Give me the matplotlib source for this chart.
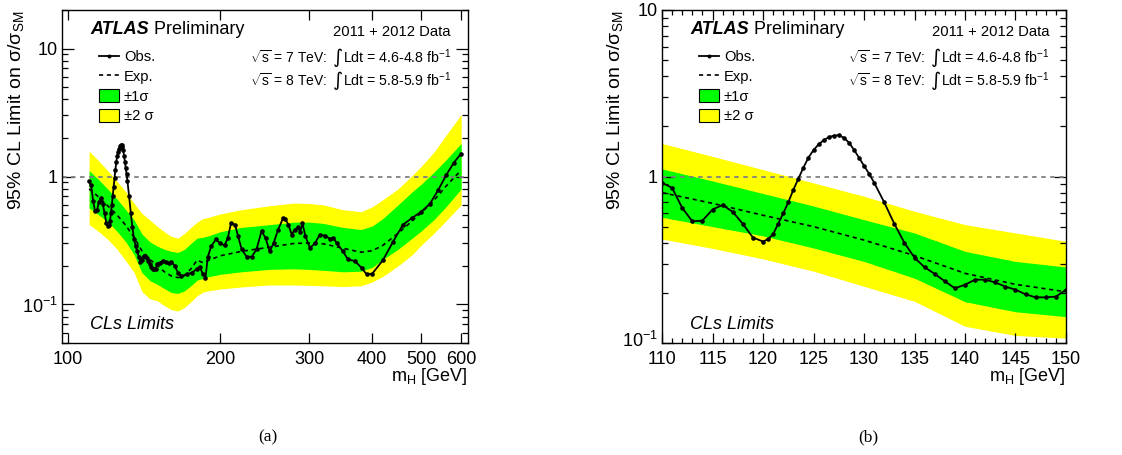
import numpy as np
import matplotlib.pyplot as plt
from matplotlib.lines import Line2D
from matplotlib.patches import Patch
from matplotlib.ticker import FixedLocator, NullFormatter, FuncFormatter
from matplotlib.transforms import ScaledTranslation

plt.rcParams['font.family'] = ['Liberation Sans', 'DejaVu Sans']
plt.rcParams['mathtext.fontset'] = 'custom'
plt.rcParams['mathtext.rm'] = 'Liberation Sans'
plt.rcParams['mathtext.it'] = 'Liberation Sans:italic'
plt.rcParams['mathtext.bf'] = 'Liberation Sans:bold'

# observed limit, low mass region (shared by both panels)
obs_m_lo = [110, 111, 112, 113, 114, 115, 116, 117, 118, 119, 120, 120.5, 121, 121.5, 122, 122.5,
            123, 123.5, 124, 124.5, 125, 125.5, 126, 126.5, 127, 127.5, 128, 128.5, 129, 129.5,
            130, 130.5, 131, 132, 133, 134, 135, 136, 137, 138, 139, 140, 141, 142, 143, 144,
            145, 146, 147, 148, 149, 150]
obs_lo = [0.916, 0.855, 0.648, 0.538, 0.543, 0.633, 0.675, 0.613, 0.52, 0.43, 0.407, 0.42,
          0.45, 0.52, 0.60, 0.70, 0.83, 0.97, 1.13, 1.30, 1.44, 1.56, 1.65, 1.72, 1.76, 1.77,
          1.71, 1.60, 1.45, 1.30, 1.16, 1.04, 0.92, 0.70, 0.52, 0.40, 0.325, 0.285, 0.26,
          0.235, 0.213, 0.224, 0.24, 0.24, 0.231, 0.218, 0.209, 0.196, 0.188, 0.188, 0.19,
          0.209]

# observed limit, high mass region (left panel only)
obs_m_hi = [152, 154, 156.5, 158, 160, 162.5, 165, 167.5, 171.5, 175.5, 179.5, 182, 185, 187,
            189, 192, 196, 200, 204, 207, 210, 214, 217, 220.5, 225.5, 231, 236, 241.5, 246,
            250.5, 255, 260.5, 266.5, 269, 273, 277, 281, 285, 288, 291, 295, 301, 308, 315,
            322, 330, 335, 340, 350, 358, 370, 381, 390, 400, 420, 440, 460, 480, 500, 520,
            540, 560, 580, 600]
obs_hi = [0.212, 0.22, 0.215, 0.21, 0.216, 0.20, 0.177, 0.167, 0.172, 0.177, 0.188, 0.197,
          0.172, 0.162, 0.236, 0.286, 0.322, 0.30, 0.29, 0.33, 0.43, 0.42, 0.34, 0.27, 0.236,
          0.236, 0.27, 0.375, 0.33, 0.26, 0.30, 0.385, 0.475, 0.465, 0.42, 0.352, 0.385, 0.40,
          0.37, 0.43, 0.34, 0.277, 0.30, 0.352, 0.345, 0.326, 0.332, 0.303, 0.26, 0.225, 0.218,
          0.193, 0.172, 0.174, 0.222, 0.31, 0.42, 0.475, 0.53, 0.61, 0.78, 1.02, 1.28, 1.51]

# expected limit and bands, low mass
band_m_lo = [110, 115, 120, 125, 130, 135, 140, 145, 150]
exp_lo = [0.80, 0.69, 0.585, 0.50, 0.415, 0.335, 0.262, 0.225, 0.203]
g_up_lo = [1.11, 0.94, 0.79, 0.665, 0.55, 0.458, 0.355, 0.309, 0.286]
g_dn_lo = [0.569, 0.50, 0.44, 0.372, 0.309, 0.245, 0.177, 0.154, 0.144]
y_up_lo = [1.58, 1.32, 1.10, 0.915, 0.761, 0.618, 0.514, 0.458, 0.408]
y_dn_lo = [0.421, 0.37, 0.32, 0.27, 0.219, 0.178, 0.126, 0.111, 0.107]

# expected limit and bands, high mass
band_m_hi = [155, 160, 165, 170, 175, 180, 185, 190, 200, 220, 250, 280, 300, 320, 350, 380,
             400, 420, 450, 480, 500, 530, 560, 600]
exp_hi = [0.18, 0.167, 0.162, 0.168, 0.19, 0.222, 0.212, 0.222, 0.24, 0.26, 0.28, 0.30, 0.302,
          0.298, 0.275, 0.256, 0.263, 0.29, 0.36, 0.45, 0.52, 0.65, 0.84, 1.12]
g_up_hi = [0.27, 0.26, 0.255, 0.27, 0.30, 0.33, 0.335, 0.345, 0.37, 0.40, 0.42, 0.44, 0.44,
           0.43, 0.40, 0.385, 0.41, 0.47, 0.60, 0.76, 0.87, 1.08, 1.35, 1.81]
g_dn_hi = [0.133, 0.124, 0.122, 0.128, 0.14, 0.155, 0.16, 0.165, 0.172, 0.18, 0.188, 0.19,
           0.188, 0.185, 0.18, 0.182, 0.195, 0.225, 0.27, 0.33, 0.375, 0.46, 0.58, 0.80]
y_up_hi = [0.37, 0.34, 0.33, 0.36, 0.40, 0.44, 0.47, 0.48, 0.51, 0.55, 0.59, 0.62, 0.615, 0.60,
           0.55, 0.53, 0.58, 0.66, 0.80, 1.02, 1.2, 1.55, 2.1, 3.05]
y_dn_hi = [0.098, 0.091, 0.089, 0.095, 0.105, 0.117, 0.125, 0.128, 0.132, 0.137, 0.142, 0.142,
           0.141, 0.14, 0.138, 0.14, 0.15, 0.166, 0.20, 0.245, 0.29, 0.36, 0.45, 0.60]

lumi_lines = [('7', '4.6-4.8'), ('8', '5.8-5.9')]

GREEN = '#00ff00'
YELLOW = '#ffff00'


def yfmt(v, pos):
    labels = {0.1: r'$10^{-1}$', 1.0: '1', 10.0: '10'}
    for k, s in labels.items():
        if abs(v - k) < 1e-9:
            return s
    return ''


def draw_panel(ax, m_obs, obs, m_band, exp, g_up, g_dn, y_up, y_dn):
    ax.fill_between(m_band, y_dn, y_up, color=YELLOW, lw=0)
    ax.fill_between(m_band, g_dn, g_up, color=GREEN, lw=0)
    ax.axhline(1, color='#808080', lw=1.3, dashes=(2.5, 2.5))
    ax.plot(m_band, exp, color='black', lw=1.2, dashes=(2.5, 2.2))
    ax.plot(m_obs, obs, color='black', lw=1.3, marker='o', ms=2.3)

    ax.set_yscale('log')
    ax.yaxis.set_major_formatter(FuncFormatter(yfmt))
    ax.yaxis.set_minor_formatter(NullFormatter())
    ax.tick_params(axis='both', which='both', direction='in', top=True, right=True,
                   labelsize=13, width=0.9)
    ax.tick_params(axis='y', which='major', length=8.6, pad=3)
    ax.tick_params(axis='y', which='minor', length=4.3)
    ax.tick_params(axis='x', which='major', length=7.2, pad=6)
    ax.tick_params(axis='x', which='minor', length=3.6)
    for s in ax.spines.values():
        s.set_linewidth(1.0)

    ax.set_ylabel('95% CL Limit on σ/σ$_{\\mathrm{SM}}$', fontsize=14, loc='top')
    ax.yaxis.set_label_coords(-0.089, 1.0)
    ax.set_xlabel(r'm$_{\mathrm{H}}$ [GeV]', fontsize=13, loc='right')
    ax.xaxis.set_label_coords(1.0, -0.07)

    # ATLAS label
    t = ax.text(0.069, 0.94, 'ATLAS', transform=ax.transAxes, fontsize=13,
                fontweight='bold', fontstyle='italic', va='center')
    ax.annotate(' Preliminary', xy=(1, 0), xycoords=t, fontsize=13, va='bottom')
    ax.text(0.958, 0.935, '2011 + 2012 Data', transform=ax.transAxes, fontsize=10.6,
            ha='right', va='center')
    for (e, lumi), yy in zip(lumi_lines, [0.86, 0.79]):
        t1 = ax.text(0.958, yy, 'Ldt = %s fb$^{-1}$' % lumi, transform=ax.transAxes,
                     fontsize=10.2, ha='right', va='center')
        t2 = ax.annotate('∫', xy=(0, 0.45), xycoords=t1, fontsize=14, ha='right',
                         va='center', family=['DejaVu Sans'])
        ax.annotate(r'$\sqrt{\mathrm{s}}$ = %s TeV:  ' % e, xy=(0, 0.5), xycoords=t2,
                    fontsize=10.0, ha='right', va='center')
    ax.text(0.069, 0.055, 'CLs Limits', transform=ax.transAxes, fontsize=13,
            fontstyle='italic', va='center')

    handles = [Line2D([], [], color='black', lw=1.3, marker='o', ms=2.3),
               Line2D([], [], color='black', lw=1.2, dashes=(2.5, 2.2)),
               Patch(facecolor=GREEN, edgecolor='black', lw=0.8),
               Patch(facecolor=YELLOW, edgecolor='black', lw=0.8)]
    ax.legend(handles, ['Obs.', 'Exp.', '±1σ', '±2 σ'],
              loc='upper left', bbox_to_anchor=(0.091, 0.88), frameon=False,
              fontsize=10.6, handlelength=1.35, handleheight=0.95, handletextpad=0.35,
              labelspacing=0.36, borderpad=0, borderaxespad=0, markerscale=0.8)


fig = plt.figure(figsize=(11.22, 4.55), dpi=100)
ax1 = fig.add_axes([62 / 1122, 1 - 343 / 455, 406 / 1122, 333 / 455])
ax2 = fig.add_axes([662 / 1122, 1 - 343 / 455, 404 / 1122, 333 / 455])

# left panel: full mass range
draw_panel(ax1, obs_m_lo + obs_m_hi, obs_lo + obs_hi,
           band_m_lo + band_m_hi, exp_lo + exp_hi,
           g_up_lo + g_up_hi, g_dn_lo + g_dn_hi,
           y_up_lo + y_up_hi, y_dn_lo + y_dn_hi)
ax1.set_xscale('log')
ax1.set_xlim(97.2, 619)
ax1.set_ylim(0.05, 20)
ax1.xaxis.set_major_locator(FixedLocator([100, 200, 300, 400, 500, 600]))
ax1.xaxis.set_major_formatter(FuncFormatter(lambda v, p: '%d' % v))
ax1.xaxis.set_minor_locator(FixedLocator([]))
ax1.yaxis.set_major_locator(FixedLocator([0.1, 1, 10]))
ax1.yaxis.set_minor_locator(FixedLocator([0.05, 0.06, 0.07, 0.08, 0.09] +
                                         [0.2, 0.3, 0.4, 0.5, 0.6, 0.7, 0.8, 0.9] +
                                         [2, 3, 4, 5, 6, 7, 8, 9, 20]))

# right panel: low mass zoom
draw_panel(ax2, obs_m_lo, obs_lo, band_m_lo, exp_lo, g_up_lo, g_dn_lo, y_up_lo, y_dn_lo)
ax2.set_xlim(110, 150)
ax2.set_ylim(0.1, 10)
ax2.xaxis.set_major_locator(FixedLocator(list(range(110, 151, 5))))
ax2.xaxis.set_minor_locator(FixedLocator(list(range(110, 151, 1))))
ax2.yaxis.set_major_locator(FixedLocator([0.1, 1, 10]))
ax2.yaxis.set_minor_locator(FixedLocator([0.2, 0.3, 0.4, 0.5, 0.6, 0.7, 0.8, 0.9] +
                                         [2, 3, 4, 5, 6, 7, 8, 9]))
ax2.yaxis.set_label_coords(-0.092, 1.0)

# the bottom y label of the right panel sits a little higher, next to "110"
lab = ax2.yaxis.get_major_ticks()[0].label1
lab.set_transform(lab.get_transform() + ScaledTranslation(0, 3 / 72, fig.dpi_scale_trans))

fig.text(268 / 1122, 1 - 437 / 455, '(a)', family='Liberation Serif', fontsize=12.5,
         ha='center', va='center')
fig.text(868 / 1122, 1 - 437 / 455, '(b)', family='Liberation Serif', fontsize=12.5,
         ha='center', va='center')

fig.savefig('out.png', dpi=100)
